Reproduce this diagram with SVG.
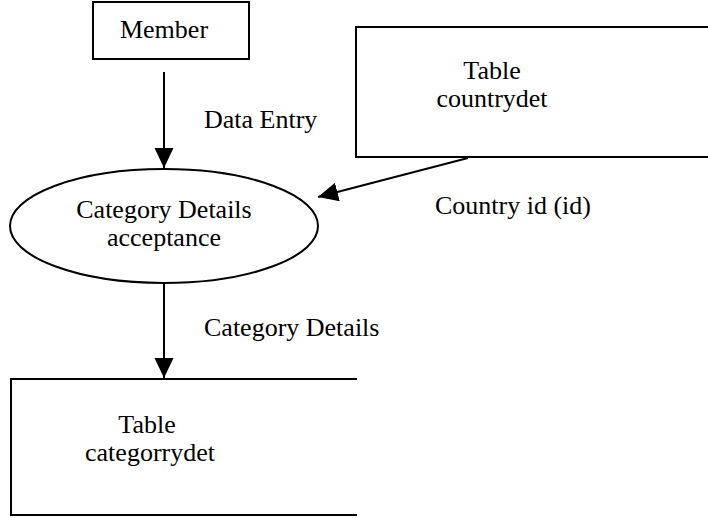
<svg xmlns="http://www.w3.org/2000/svg" width="708" height="518" viewBox="0 0 708 518">
<style>
.t{font-family:"Liberation Serif","Times New Roman",serif;font-size:26px;fill:#000}
.s{fill:none;stroke:#000;stroke-width:2}
.c{fill:none;stroke:#000;stroke-width:2}
</style>
<defs>
<marker id="ah" markerWidth="20" markerHeight="20" refX="20" refY="9.5" orient="auto" markerUnits="userSpaceOnUse">
<path d="M0,0 L20,9.5 L0,19 Z" fill="#000"/>
</marker>
</defs>
<rect width="708" height="518" fill="#fff"/>
<g id="member">
<rect class="s" x="93" y="2" width="156" height="57"/>
<text class="t" x="164" y="38" text-anchor="middle">Member</text>
</g>
<g id="countrydet">
<path class="s" d="M708,27 H356 V157 H708"/>
<text class="t" x="492" y="79" text-anchor="middle">Table</text>
<text class="t" x="492" y="107" text-anchor="middle">countrydet</text>
</g>
<g id="process">
<ellipse class="s" cx="164" cy="226" rx="154" ry="57"/>
<text class="t" x="164" y="218" text-anchor="middle">Category Details</text>
<text class="t" x="164" y="246" text-anchor="middle">acceptance</text>
</g>
<g id="categorrydet">
<path class="s" d="M357,379 H11 V515 H357"/>
<text class="t" x="147" y="433" text-anchor="middle">Table</text>
<text class="t" x="150" y="461" text-anchor="middle">categorrydet</text>
</g>
<g id="connectors">
<line class="c" x1="164" y1="72" x2="164" y2="168" marker-end="url(#ah)"/>
<line class="c" x1="468" y1="158" x2="318" y2="197" marker-end="url(#ah)"/>
<line class="c" x1="164" y1="283" x2="164" y2="378" marker-end="url(#ah)"/>
<text class="t" x="204" y="128">Data Entry</text>
<text class="t" x="435" y="214">Country id (id)</text>
<text class="t" x="204" y="336">Category Details</text>
</g>
</svg>
